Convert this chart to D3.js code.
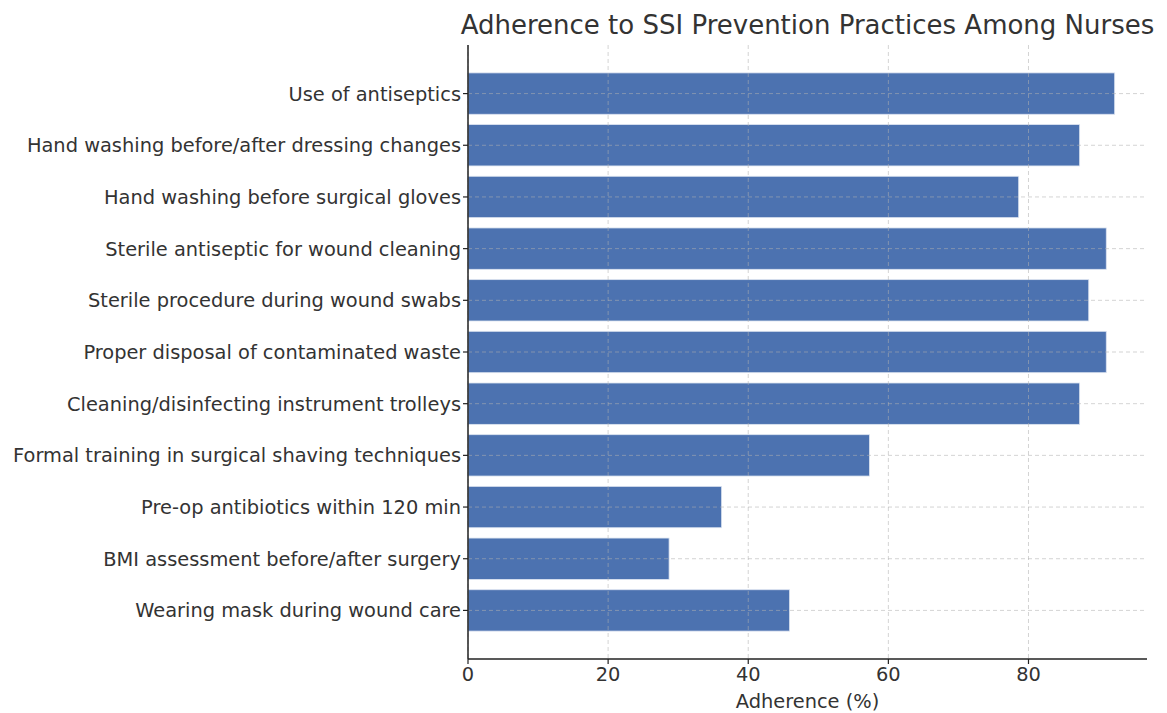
<html>
<head>
<script src="https://cdnjs.cloudflare.com/ajax/libs/d3/7.8.5/d3.min.js"></script>
<style>
body { margin: 0; background: #fff; }
svg text { font-family: "DejaVu Sans", sans-serif; fill: #333; }
</style>
</head>
<body>
<svg id="canvas" width="1167" height="713"></svg>
<script>
// data
var practices = [
    "Use of antiseptics",
    "Hand washing before/after dressing changes",
    "Hand washing before surgical gloves",
    "Sterile antiseptic for wound cleaning",
    "Sterile procedure during wound swabs",
    "Proper disposal of contaminated waste",
    "Cleaning/disinfecting instrument trolleys",
    "Formal training in surgical shaving techniques",
    "Pre-op antibiotics within 120 min",
    "BMI assessment before/after surgery",
    "Wearing mask during wound care"
];
var adherence = [92.3, 87.3, 78.6, 91.1, 88.6, 91.1, 87.3, 57.3, 36.2, 28.7, 45.9];
var xTicks = [0, 20, 40, 60, 80];

var titleText = "Adherence to SSI Prevention Practices Among Nurses";
var xLabel = "Adherence (%)";

var mLeft = 468, mRight = 1147, mTop = 45, mBottom = 659;
var svg = d3.select("#canvas");

var x = d3.scaleLinear()
    .domain([0, d3.max(adherence) * 1.05])
    .range([mLeft, mRight]);

var y = d3.scaleBand()
    .domain(practices)
    .range([mTop, mBottom])
    .paddingInner(0.2)
    .paddingOuter(0.54);

var yc = d => y(d) + y.bandwidth() / 2;

// bars
svg.append("g").selectAll("rect")
    .data(practices)
    .enter().append("rect")
    .attr("x", x(0))
    .attr("y", d => y(d))
    .attr("width", (d, i) => x(adherence[i]) - x(0))
    .attr("height", y.bandwidth())
    .attr("fill", "#4c72b0")
    .attr("stroke", "#dbe3f0")
    .attr("stroke-width", 0.8);

// grid on top of bars
var grid = svg.append("g")
    .attr("stroke", "#b0b0b0")
    .attr("stroke-opacity", 0.55)
    .attr("stroke-dasharray", "4,3")
    .attr("stroke-width", 1);
grid.selectAll(".gx").data(xTicks).enter().append("line")
    .attr("class", "gx")
    .attr("x1", d => x(d)).attr("x2", d => x(d))
    .attr("y1", mTop).attr("y2", mBottom);
grid.selectAll(".gy").data(practices).enter().append("line")
    .attr("class", "gy")
    .attr("x1", mLeft).attr("x2", mRight)
    .attr("y1", yc).attr("y2", yc);

// spines
svg.append("line").attr("x1", mLeft).attr("x2", mLeft).attr("y1", mTop).attr("y2", mBottom)
    .attr("stroke", "#222").attr("stroke-width", 1.5);
svg.append("line").attr("x1", mLeft).attr("x2", mRight).attr("y1", mBottom).attr("y2", mBottom)
    .attr("stroke", "#222").attr("stroke-width", 1.5);

// x ticks
var xt = svg.append("g").selectAll("g").data(xTicks).enter().append("g");
xt.append("line")
    .attr("x1", d => x(d)).attr("x2", d => x(d))
    .attr("y1", mBottom).attr("y2", mBottom + 5)
    .attr("stroke", "#222").attr("stroke-width", 1.2);
xt.append("text")
    .attr("x", d => x(d))
    .attr("y", mBottom + 22)
    .attr("text-anchor", "middle")
    .style("font-size", "19.4px")
    .text(d => d);

// y ticks
var yt = svg.append("g").selectAll("g").data(practices).enter().append("g");
yt.append("line")
    .attr("x1", mLeft - 5).attr("x2", mLeft)
    .attr("y1", yc).attr("y2", yc)
    .attr("stroke", "#222").attr("stroke-width", 1.2);
yt.append("text")
    .attr("x", mLeft - 7)
    .attr("y", yc)
    .attr("dy", "0.36em")
    .attr("text-anchor", "end")
    .style("font-size", "19.4px")
    .text(d => d);

// axis label
svg.append("text")
    .attr("x", (mLeft + mRight) / 2)
    .attr("y", 708)
    .attr("text-anchor", "middle")
    .style("font-size", "19.4px")
    .text(xLabel);

// title
svg.append("text")
    .attr("x", (mLeft + mRight) / 2)
    .attr("y", 34)
    .attr("text-anchor", "middle")
    .style("font-size", "26px")
    .text(titleText);
</script>
</body>
</html>
